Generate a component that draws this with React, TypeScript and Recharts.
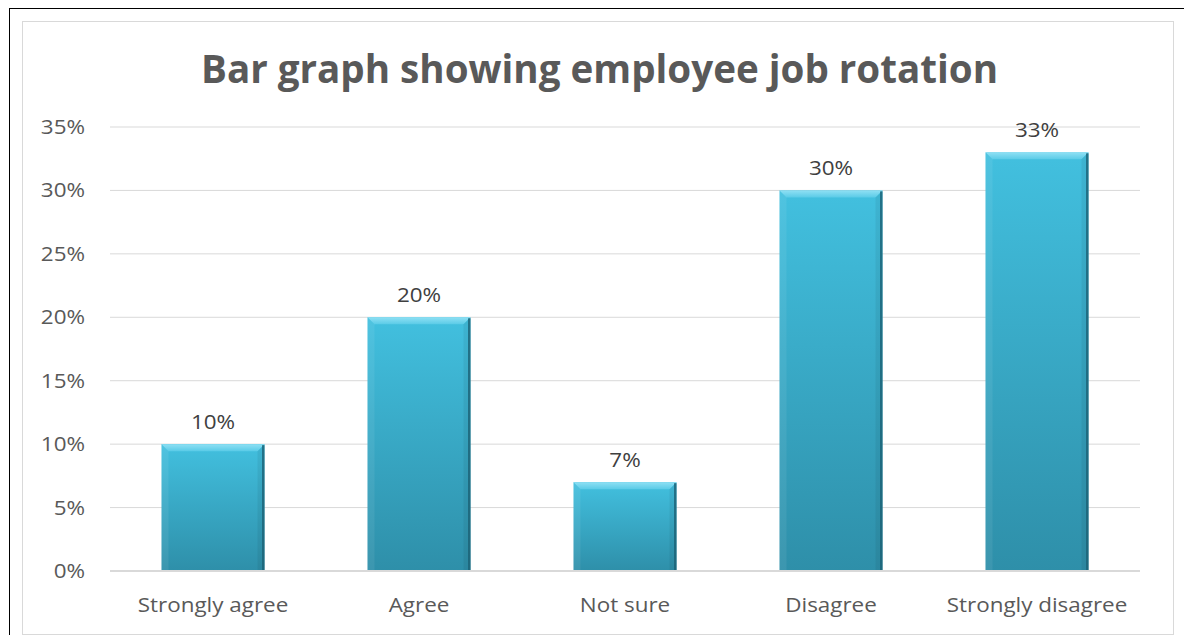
import { Bar, BarChart, CartesianGrid, LabelList, XAxis, YAxis } from 'recharts'

const CATEGORIES = ['Strongly agree', 'Agree', 'Not sure', 'Disagree', 'Strongly disagree']
const SHARES = [0.1, 0.2, 0.07, 0.3, 0.33]
const Y_TICKS = [0, 0.05, 0.1, 0.15, 0.2, 0.25, 0.3, 0.35]

const FONT = '"Open Sans", "DejaVu Sans", sans-serif'
const TEXT_GREY = '#595959'
const STRETCH = 1.15

const data = CATEGORIES.map((name, i) => ({ name, share: SHARES[i] }))

const pct = (v: number) => `${Math.round(v * 100)}%`

// text widened a bit, the source image is stretched horizontally
function WideText({ x, y, anchor, fill, children }: any) {
  return (
    <text
      x={x}
      y={y}
      textAnchor={anchor}
      fill={fill}
      fontSize={19.5}
      fontFamily={FONT}
      transform={`translate(${x},${y}) scale(${STRETCH},1) translate(${-x},${-y})`}
    >
      {children}
    </text>
  )
}

const XTick = (props: any) => (
  <WideText x={props.x} y={props.y + 14} anchor="middle" fill={TEXT_GREY}>
    {props.payload.value}
  </WideText>
)

const YTick = (props: any) => (
  <WideText x={props.x} y={props.y + 7} anchor="end" fill={TEXT_GREY}>
    {pct(props.payload.value)}
  </WideText>
)

const ValueLabel = (props: any) => {
  const { x, y, width, value } = props
  return (
    <WideText x={x + width / 2} y={y - 15} anchor="middle" fill="#404040">
      {pct(Number(value))}
    </WideText>
  )
}

// Excel-style bevelled bar
function BevelBar(props: any) {
  const { x, y, width, height } = props
  if (!height || height <= 0) return null
  const b = 7
  return (
    <g>
      <rect x={x} y={y} width={width} height={height} fill="url(#barBody)" />
      <polygon
        points={`${x},${y} ${x + width},${y} ${x + width - b},${y + b} ${x + b},${y + b}`}
        fill="url(#barTop)"
      />
      <polygon
        points={`${x},${y} ${x + b},${y + b} ${x + b},${y + height} ${x},${y + height}`}
        fill="#ffffff"
        fillOpacity={0.07}
      />
      <polygon
        points={`${x + width},${y} ${x + width - b},${y + b} ${x + width - b},${y + height} ${x + width},${y + height}`}
        fill="#000000"
        fillOpacity={0.06}
      />
      <rect x={x + width - 2.5} y={y + 1} width={2.5} height={height - 1} fill="#1c6275" fillOpacity={0.8} />
    </g>
  )
}

export default function App() {
  return (
    <div style={{ position: 'relative', width: 1176, height: 627, fontFamily: FONT }}>
      <div
        style={{
          position: 'absolute',
          left: 1,
          top: 0,
          width: 1179,
          height: 635,
          borderTop: '1px solid #000',
          borderLeft: '1px solid #000',
          borderRight: '1px solid #000',
          boxSizing: 'border-box',
        }}
      />
      <div
        style={{
          position: 'absolute',
          left: 14,
          top: 13,
          width: 1152,
          height: 614,
          border: '1px solid #d9d9d9',
          boxSizing: 'border-box',
        }}
      />
      <svg
        width={1176}
        height={110}
        style={{ position: 'absolute', left: 0, top: 0, overflow: 'visible' }}
      >
        <text
          x={193}
          y={75}
          textLength={797}
          lengthAdjust="spacingAndGlyphs"
          fontFamily={FONT}
          fontWeight={700}
          fontSize={39}
          fill={TEXT_GREY}
        >
          Bar graph showing employee job rotation
        </text>
      </svg>
      <div style={{ position: 'absolute', left: 0, top: 0 }}>
        <BarChart
          width={1176}
          height={627}
          data={data}
          margin={{ top: 119, right: 44, bottom: 24, left: 0 }}
          barCategoryGap="25%"
        >
          <defs>
            <linearGradient id="barBody" x1="0" y1="0" x2="0" y2="1">
              <stop offset="0%" stopColor="#42c0df" />
              <stop offset="100%" stopColor="#2e8fa9" />
            </linearGradient>
            <linearGradient id="barTop" x1="0" y1="0" x2="0" y2="1">
              <stop offset="0%" stopColor="#8fe0f4" />
              <stop offset="100%" stopColor="#5acbe7" />
            </linearGradient>
          </defs>
          <CartesianGrid vertical={false} stroke="#d9d9d9" strokeWidth={1} />
          <XAxis
            dataKey="name"
            axisLine={{ stroke: '#d9d9d9', strokeWidth: 2 }}
            tickLine={false}
            tickSize={0}
            tickMargin={27}
            height={40}
            interval={0}
            tick={XTick}
          />
          <YAxis
            domain={[0, 0.35]}
            ticks={Y_TICKS}
            axisLine={false}
            tickLine={false}
            tickSize={0}
            tickMargin={25}
            width={102}
            tick={YTick}
          />
          <Bar dataKey="share" shape={BevelBar} isAnimationActive={false}>
            <LabelList dataKey="share" content={ValueLabel} />
          </Bar>
        </BarChart>
      </div>
    </div>
  )
}
